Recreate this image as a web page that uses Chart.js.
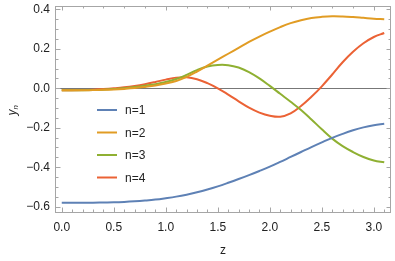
<!DOCTYPE html>
<html>
<head>
<meta charset="utf-8">
<script src="https://cdn.jsdelivr.net/npm/chart.js@4"></script>
<style>
  html, body { margin: 0; padding: 0; background: #fff; }
  #wrap { width: 395px; height: 261px; }
</style>
</head>
<body>
<div id="wrap"><canvas id="chart" width="395" height="261"></canvas></div>
<script>
// sample points along z
const zValues = [0.0, 0.1, 0.2, 0.3, 0.4, 0.5, 0.6, 0.7, 0.8, 0.9, 1.0, 1.1, 1.2, 1.3, 1.4, 1.5,
                 1.6, 1.7, 1.8, 1.9, 2.0, 2.1, 2.2, 2.3, 2.4, 2.5, 2.6, 2.7, 2.8, 2.9, 3.0, 3.1]

const yn1 = [-0.580, -0.580, -0.580, -0.580, -0.579, -0.578, -0.576, -0.573, -0.569, -0.564, -0.557, -0.549, -0.539, -0.527, -0.513, -0.497,
             -0.479, -0.460, -0.440, -0.419, -0.397, -0.373, -0.348, -0.323, -0.298, -0.274, -0.251, -0.231, -0.213, -0.198, -0.187, -0.180]
const yn2 = [-0.010, -0.010, -0.010, -0.009, -0.008, -0.006, -0.003, 0.001, 0.007, 0.014, 0.024, 0.037, 0.058, 0.085, 0.115, 0.145,
             0.175, 0.205, 0.235, 0.262, 0.287, 0.310, 0.330, 0.345, 0.356, 0.362, 0.365, 0.364, 0.361, 0.357, 0.353, 0.350]
const yn3 = [-0.010, -0.010, -0.010, -0.009, -0.007, -0.004, 0.000, 0.006, 0.013, 0.021, 0.032, 0.047, 0.068, 0.092, 0.110, 0.118,
             0.117, 0.105, 0.082, 0.050, 0.012, -0.028, -0.068, -0.110, -0.158, -0.208, -0.255, -0.293, -0.323, -0.348, -0.366, -0.375]
const yn4 = [-0.010, -0.010, -0.009, -0.007, -0.004, 0.000, 0.005, 0.012, 0.021, 0.032, 0.044, 0.054, 0.056, 0.046, 0.026, 0.000,
             -0.032, -0.066, -0.098, -0.123, -0.139, -0.144, -0.127, -0.090, -0.043, 0.010, 0.070, 0.132, 0.185, 0.228, 0.260, 0.280]

const seriesNames = ['n=1', 'n=2', 'n=3', 'n=4']
const seriesColors = ['#5E81B5', '#E19C24', '#8FB032', '#EB6235']

const xTicks = [0.0, 0.5, 1.0, 1.5, 2.0, 2.5, 3.0]
const yTicks = [-0.6, -0.4, -0.2, 0.0, 0.2, 0.4]

const FONT = '"Liberation Sans", Arial, sans-serif'

function fmt(v) {
    const s = Math.abs(v).toFixed(1)
    return v < -1e-9 ? '\u2212' + s : s
}

function range(a, b, step) {
    const out = []
    for (let i = 0; a + i * step <= b + 1e-9; i++) out.push(+(a + i * step).toFixed(3))
    return out
}

// frame, inward ticks, zero axis, legend and y label
const framePlugin = {
    id: 'frame',
    beforeDatasetsDraw(chart) {
        const { ctx, chartArea: a, scales } = chart
        ctx.save()
        ctx.strokeStyle = '#777'
        ctx.lineWidth = 1
        const y0 = Math.round(scales.y.getPixelForValue(0)) + 0.5
        ctx.beginPath(); ctx.moveTo(a.left, y0); ctx.lineTo(a.right, y0); ctx.stroke()
        ctx.restore()
    },
    afterDatasetsDraw(chart) {
        const { ctx, chartArea: a, scales } = chart
        const xs = scales.x, ys = scales.y
        ctx.save()
        ctx.strokeStyle = '#a6a6a6'
        ctx.lineWidth = 1
        const L = Math.round(a.left) + 0.5, R = Math.round(a.right) - 0.5
        const T = Math.round(a.top) + 0.5, B = Math.round(a.bottom) - 0.5
        ctx.strokeRect(L, T, R - L, B - T)

        ctx.beginPath()
        // bottom
        range(0, 3.1, 0.1).forEach(v => {
            const x = Math.round(xs.getPixelForValue(v)) + 0.5
            const major = Math.abs(v * 2 - Math.round(v * 2)) < 1e-6
            ctx.moveTo(x, B); ctx.lineTo(x, B - (major ? 5 : 3))
        })
        // top
        range(0, 3.1, 0.2).forEach(v => {
            const x = Math.round(xs.getPixelForValue(v)) + 0.5
            const major = Math.abs(v - Math.round(v)) < 1e-6
            ctx.moveTo(x, T); ctx.lineTo(x, T + (major ? 4 : 2))
        })
        // left & right
        range(-0.6, 0.4, 0.05).forEach(v => {
            const y = Math.round(ys.getPixelForValue(v)) + 0.5
            const major = Math.abs(v * 5 - Math.round(v * 5)) < 1e-6
            ctx.moveTo(L, y); ctx.lineTo(L + (major ? 5 : 3), y)
            ctx.moveTo(R, y); ctx.lineTo(R - (major ? 4 : 2), y)
        })
        ctx.stroke()

        // legend inside the plot
        ctx.font = '12px ' + FONT
        ctx.textBaseline = 'middle'
        ctx.textAlign = 'left'
        seriesNames.forEach((name, i) => {
            const y = a.top + 104 + i * 22.5
            ctx.strokeStyle = seriesColors[i]
            ctx.lineWidth = 2
            ctx.beginPath(); ctx.moveTo(a.left + 42, y); ctx.lineTo(a.left + 62, y); ctx.stroke()
            ctx.fillStyle = '#222'
            ctx.fillText(name, a.left + 70, y + 1)
        })

        // y axis label, y with subscript n
        ctx.translate(13, (a.top + a.bottom) / 2 + 6)
        ctx.rotate(-Math.PI / 2)
        ctx.fillStyle = '#222'
        ctx.font = 'italic 12px ' + FONT
        ctx.fillText('y', 0, 0)
        ctx.font = 'italic 8px ' + FONT
        ctx.fillText('n', 6, 3)
        ctx.restore()
    }
}

const ctx = document.getElementById('chart').getContext('2d')
const myChart = new Chart(ctx, {
    type: 'line',
    data: {
        datasets: seriesNames.map((name, i) => ({
            label: name,
            data: zValues.map((z, k) => ({ x: z, y: [yn1, yn2, yn3, yn4][i][k] })),
            borderColor: seriesColors[i],
            backgroundColor: seriesColors[i],
            borderWidth: 2,
            pointRadius: 0,
            tension: 0.4,
            fill: false
        }))
    },
    plugins: [framePlugin],
    options: {
        responsive: false,
        animation: false,
        layout: { padding: { top: 6, right: 4, left: 0, bottom: 0 } },
        plugins: {
            legend: { display: false },
            tooltip: { enabled: false }
        },
        scales: {
            x: {
                type: 'linear',
                min: -0.065,
                max: 3.165,
                afterBuildTicks: s => { s.ticks = xTicks.map(v => ({ value: v })) },
                afterFit: s => { s.height = 48; s.paddingLeft = 0; s.paddingRight = 0 },
                grid: { display: false, drawTicks: false },
                border: { display: false },
                ticks: {
                    padding: 7,
                    color: '#222',
                    font: { family: FONT, size: 12 },
                    callback: v => fmt(v),
                    maxRotation: 0
                },
                title: {
                    display: true,
                    text: 'z',
                    color: '#222',
                    font: { family: FONT, size: 12 },
                    padding: { top: 0, bottom: 3 }
                }
            },
            y: {
                type: 'linear',
                min: -0.632,
                max: 0.417,
                afterBuildTicks: s => { s.ticks = yTicks.map(v => ({ value: v })) },
                afterFit: s => { s.width = 55; s.paddingTop = 0; s.paddingBottom = 0 },
                grid: { display: false, drawTicks: false },
                border: { display: false },
                ticks: {
                    padding: 5,
                    color: '#222',
                    font: { family: FONT, size: 12 },
                    callback: v => fmt(v)
                }
            }
        }
    }
})
</script>
</body>
</html>
